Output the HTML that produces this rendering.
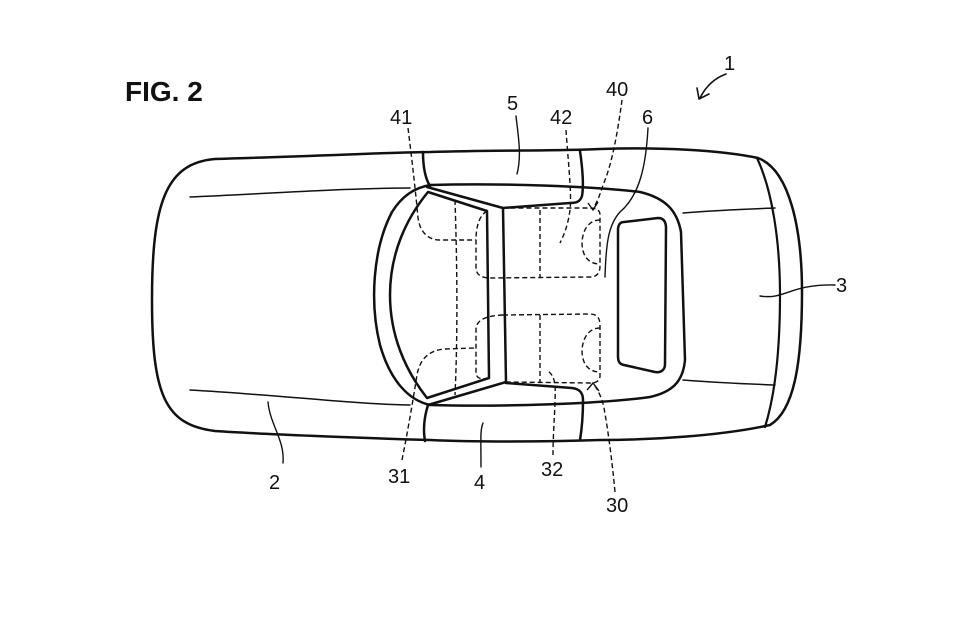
<!DOCTYPE html>
<html><head><meta charset="utf-8"><style>
html,body{margin:0;padding:0;background:#fff}
svg{display:block}
text{font-family:"Liberation Sans",sans-serif;fill:#111}
</style></head><body>
<svg width="960" height="636" viewBox="0 0 960 636" xmlns="http://www.w3.org/2000/svg">
<g fill="none" stroke="#111" stroke-width="2.5" stroke-linejoin="round" stroke-linecap="round">
<path d="M215,159 C320,156 400,152 430,152 C500,150 560,151 600,149 C660,147 720,150 758,158 C790,170 802,230 802,292 C802,360 795,410 770,425 C720,436 650,440 600,440 C540,442 470,442 430,440 C360,438 260,434 215,431 C165,425 152,395 152,300 C152,205 165,163 215,159 Z"/>
<path d="M757,158 C772,190 780,240 780,295 C780,350 775,395 765,427" stroke-width="2.2"/>
<path d="M190,197 C280,193 350,188 410,188" stroke-width="1.5"/>
<path d="M190,390 C280,395 350,404 410,405" stroke-width="1.5"/>
<path d="M683,213 C720,210 750,209 775,208" stroke-width="1.5"/>
<path d="M683,380 C720,383 750,384 775,385" stroke-width="1.5"/>
<path d="M423,152 C423,165 425,178 430,186"/>
<path d="M580,151 C582,165 584,185 582,196 C580,202 576,203 570,203 L503,208"/>
<path d="M428,405 C424,418 423,430 425,441"/>
<path d="M506,383 L572,388 C580,389 583,393 583,400 C583,415 582,428 580,440"/>
<path d="M430,185 C500,183 590,186 640,192 C665,198 677,210 681,232 L685,360 C683,382 672,392 650,397 C600,404 500,407 430,405 C408,400 390,380 380,345 C370,305 372,250 392,212 C402,196 414,188 430,185 Z"/>
<path d="M427,187 L503,208 L506,382 L428,405"/>
<path d="M428,192 L487,211 L489,378 L427,398 C405,370 390,335 390,295 C390,255 405,220 428,192 Z"/>
<path d="M624,222 L658,218 C664,218 666,222 666,228 L665,364 C665,370 661,373 655,372 L624,365 C619,364 618,361 618,356 L618,230 C618,225 620,222 624,222 Z"/>
<path d="M516,116 C518,135 522,155 517,174" stroke-width="1.4"/>
<path d="M648,128 C646,165 640,195 620,212 C608,225 606,245 605,277" stroke-width="1.4"/>
<path d="M483,423 C480,430 481,440 481,467" stroke-width="1.4"/>
<path d="M283,463 C285,440 270,425 268,402" stroke-width="1.4"/>
<path d="M760,296 C785,300 790,284 835,285" stroke-width="1.4"/>
<path d="M726,74 C715,78 706,86 700,98" stroke-width="1.6"/>
<path d="M697,88 L699,99 L709,94" stroke-width="1.6"/>
</g>
<g fill="none" stroke="#111" stroke-width="1.4" stroke-dasharray="5,3">
<path d="M487,211 C480,215 476,225 476,240 L476,268 C476,275 482,278 490,278 L590,277 C597,277 600,273 600,266 L600,215 C600,210 596,208 590,208 L503,208"/>
<path d="M540,210 L540,277"/>
<path d="M600,220 C590,220 583,228 582,242 C582,258 590,264 600,264"/>
<path d="M503,315 L590,314 C597,314 600,318 600,325 L600,376 C600,381 596,383 590,383 L506,382"/>
<path d="M503,315 C485,316 476,320 476,330 L476,372 C476,378 480,380 489,378"/>
<path d="M540,315 L540,382"/>
<path d="M600,328 C590,328 583,336 582,350 C582,366 590,372 600,372"/>
<path d="M408,128 C412,160 416,195 418,218 C420,232 428,240 440,240 L476,240"/>
<path d="M455,200 C457,260 458,330 455,395"/>
<path d="M402,460 C408,430 413,400 417,375 C420,358 430,350 445,349 L476,348"/>
<path d="M566,130 C568,160 572,195 570,210 C568,225 564,235 560,243"/>
<path d="M622,100 C618,130 612,165 603,185 C600,195 597,202 593,209"/>
<path d="M615,492 C612,460 608,430 604,408 C602,398 598,390 593,383"/>
<path d="M553,455 C553,430 556,400 555,385 C554,378 552,374 548,371"/>
</g>
<g fill="none" stroke="#111" stroke-width="1.4">
<path d="M588,203 L593,210 L598,202"/>
<path d="M587,390 L593,383 L599,391"/>
</g>
<text x="125" y="101" font-size="28" font-weight="bold">FIG. 2</text>
<g font-size="20">
<text x="724" y="70">1</text>
<text x="507" y="110">5</text>
<text x="390" y="124">41</text>
<text x="550" y="124">42</text>
<text x="606" y="96">40</text>
<text x="642" y="124">6</text>
<text x="836" y="292">3</text>
<text x="269" y="489">2</text>
<text x="388" y="483">31</text>
<text x="474" y="489">4</text>
<text x="541" y="476">32</text>
<text x="606" y="512">30</text>
</g>
</svg>
</body></html>
